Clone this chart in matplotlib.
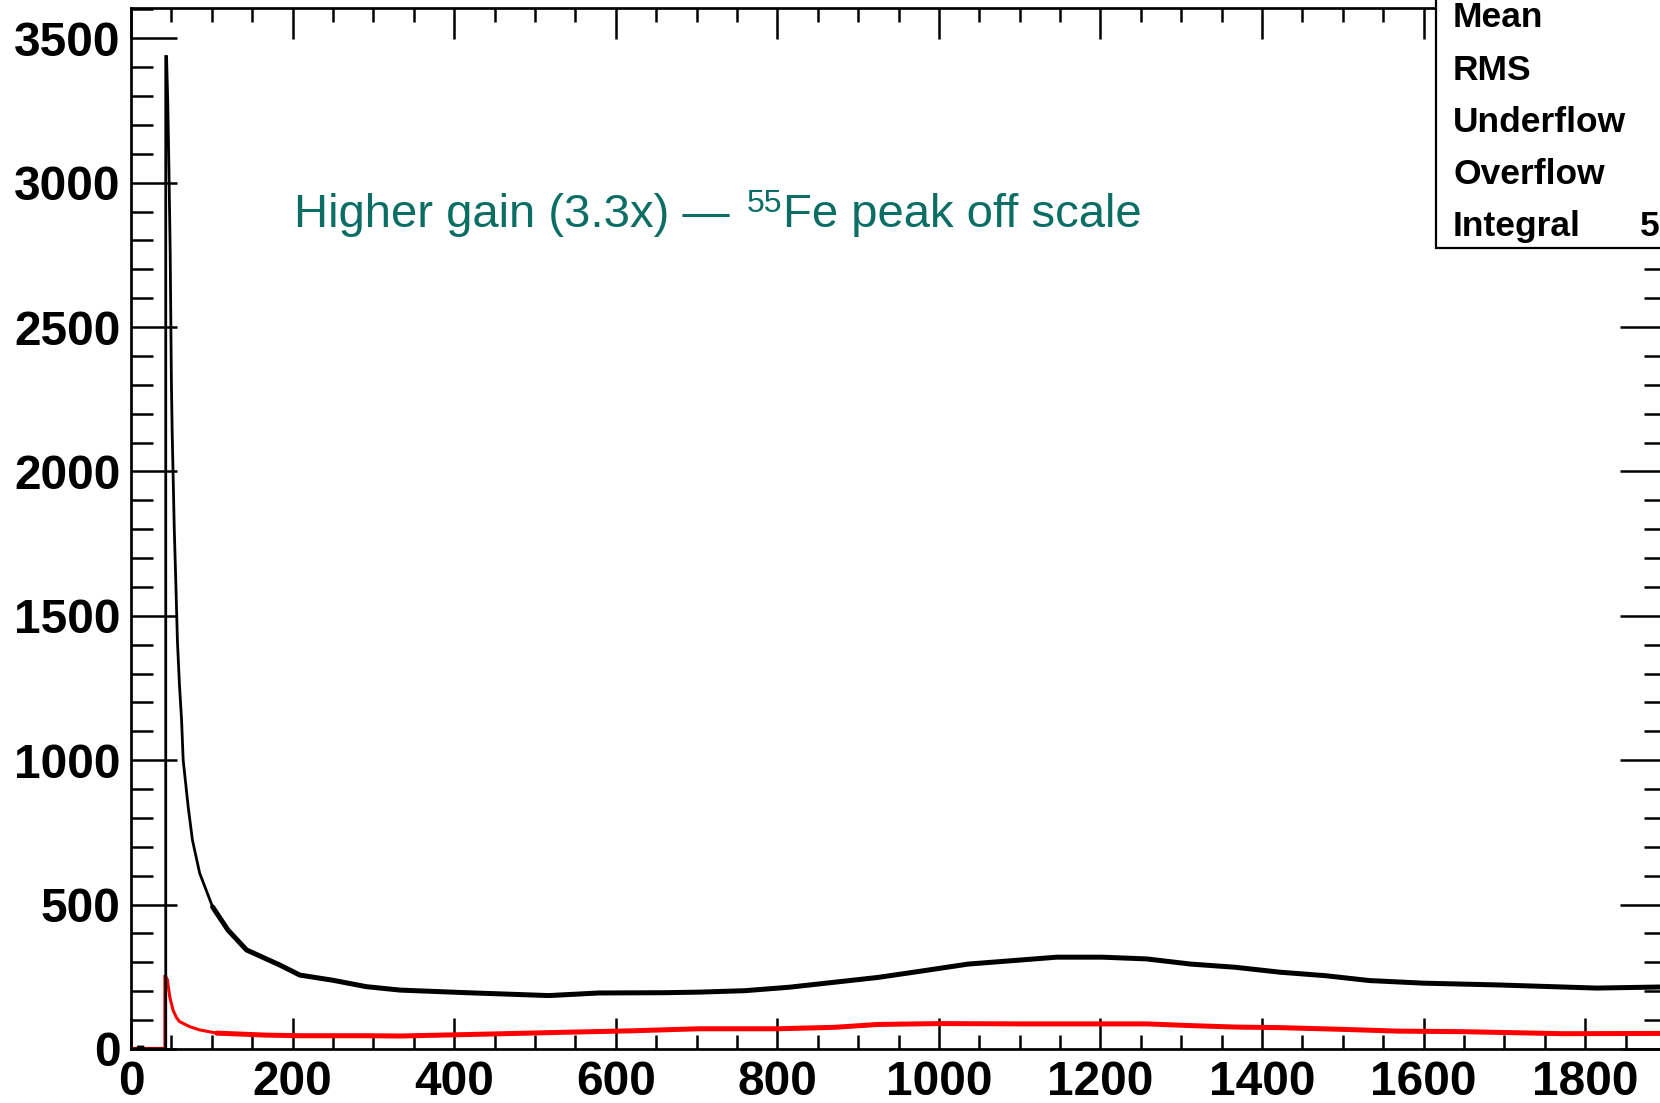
import matplotlib
matplotlib.use("Agg")
import matplotlib.pyplot as plt
from matplotlib.patches import Rectangle
from matplotlib.ticker import MultipleLocator

# ---- data ----
black_x = [0, 8, 9, 15, 16, 43, 43, 44, 45.5, 47, 48.5, 50, 51, 52, 53.5, 55.5, 57.5, 60,
           62.6, 64.6, 70.8, 76, 85, 101, 120, 143, 184, 209, 250, 291, 333, 415, 517,
           579, 661, 704, 760, 815, 870, 925, 981, 1036, 1091, 1146, 1202, 1257, 1312,
           1367, 1422, 1478, 1533, 1600, 1690, 1814, 1900]
black_y = [0, 0, 7, 7, 0, 0, 3437, 3437, 3280, 3040, 2760, 2310, 2130, 2005, 1807, 1613, 1410, 1260,
           1139, 1000, 838, 724, 609, 492, 412, 343, 291, 256, 238, 216, 204, 195, 185,
           194, 195, 197, 202, 214, 231, 248, 271, 294, 306, 318, 318, 312, 294,
           283, 266, 254, 237, 228, 222, 211, 215]

red_x = [0, 42, 42, 45, 48, 52, 56, 60, 73, 85, 106, 168, 209, 291, 333, 415, 538, 620,
         702, 800, 870, 925, 1000, 1100, 1257, 1312, 1367, 1422, 1500, 1567, 1649, 1773, 1900]
red_y = [2, 2, 256, 240, 180, 135, 110, 95, 77, 66, 55, 48, 46, 46, 45, 50, 58, 63,
         70, 70, 75, 85, 88, 87, 87, 81, 76, 74, 68, 62, 60, 53, 54]

x_range = (0, 1900)
y_range = (0, 3605)

stats_labels = ["Mean", "RMS", "Underflow", "Overflow", "Integral"]
integral_text = "5"
annot_parts = ["Higher gain (3.3x) —", "55", "Fe peak off scale"]

# ---- style ----
plt.rcParams["font.family"] = ["Liberation Sans", "DejaVu Sans"]
plt.rcParams["font.weight"] = "bold"

W, H = 1660, 1103
fig = plt.figure(figsize=(W / 100, H / 100), dpi=100)
fig.patch.set_facecolor("white")
ax = fig.add_axes([131 / W, 1 - 1049 / H, (1666 - 131) / W, (1049 - 8) / H])


def part(xs, ys, lo, hi):
    px = [x for x in xs if lo <= x <= hi]
    py = [y for x, y in zip(xs, ys) if lo <= x <= hi]
    return px, py

# thin line for the sharp peak, thicker band for the noisy tail
rx1, ry1 = part(red_x, red_y, 0, 106)
rx2, ry2 = part(red_x, red_y, 106, 2000)
bx1, by1 = part(black_x, black_y, 0, 101)
bx2, by2 = part(black_x, black_y, 101, 2000)

ax.plot(rx1, ry1, color="#ff0000", lw=2.2, solid_joinstyle="miter")
ax.plot(rx2, ry2, color="#ff0000", lw=3.6, solid_capstyle="round")
ax.plot(bx1, by1, color="black", lw=2.0, solid_joinstyle="miter")
ax.plot(bx2, by2, color="black", lw=3.6, solid_capstyle="round")

ax.set_xlim(*x_range)
ax.set_ylim(*y_range)

ax.xaxis.set_major_locator(MultipleLocator(200))
ax.xaxis.set_minor_locator(MultipleLocator(50))
ax.yaxis.set_major_locator(MultipleLocator(500))
ax.yaxis.set_minor_locator(MultipleLocator(100))

for s in ax.spines.values():
    s.set_linewidth(1.95)

ax.tick_params(which="both", direction="in", top=True, right=True, width=1.8,
               labelsize=34.5)
ax.tick_params(axis="x", which="major", length=22, pad=8)
ax.tick_params(axis="x", which="minor", length=10)
ax.tick_params(axis="y", which="major", length=33, pad=7.5)
ax.tick_params(axis="y", which="minor", length=16)
for lab in ax.get_xticklabels() + ax.get_yticklabels():
    lab.set_fontweight("bold")

# annotation: main text, superscript mass number, rest
teal = "#0a6e64"
renderer = fig.canvas.get_renderer()
base_y = 1 - 227 / H
t1 = fig.text(294 / W, base_y, annot_parts[0], color=teal, fontsize=34,
              fontweight="normal", va="baseline", ha="left")
x1 = t1.get_window_extent(renderer).x1
t2 = fig.text((x1 + 17) / W, base_y + 15 / H, annot_parts[1], color=teal,
              fontsize=23, fontweight="normal", va="baseline", ha="left")
x2 = t2.get_window_extent(renderer).x1
fig.text((x2 + 1) / W, base_y, annot_parts[2], color=teal, fontsize=34,
         fontweight="normal", va="baseline", ha="left")

# stats box (cropped at figure edge)
box = Rectangle((1436 / W, 1 - 248 / H), 0.2, 0.3, transform=fig.transFigure,
                facecolor="white", edgecolor="black", lw=1.6, zorder=10)
fig.add_artist(box)
baselines = [27, 79.5, 132, 184, 236]
for lab, b in zip(stats_labels, baselines):
    fig.text(1453 / W, 1 - b / H, lab, fontsize=25.5, fontweight="bold",
             va="baseline", ha="left", zorder=11)
fig.text(1640 / W, 1 - 236 / H, integral_text, fontsize=25.5, fontweight="bold",
         va="baseline", ha="left", zorder=11)

fig.savefig("out.png", dpi=100, facecolor="white")
